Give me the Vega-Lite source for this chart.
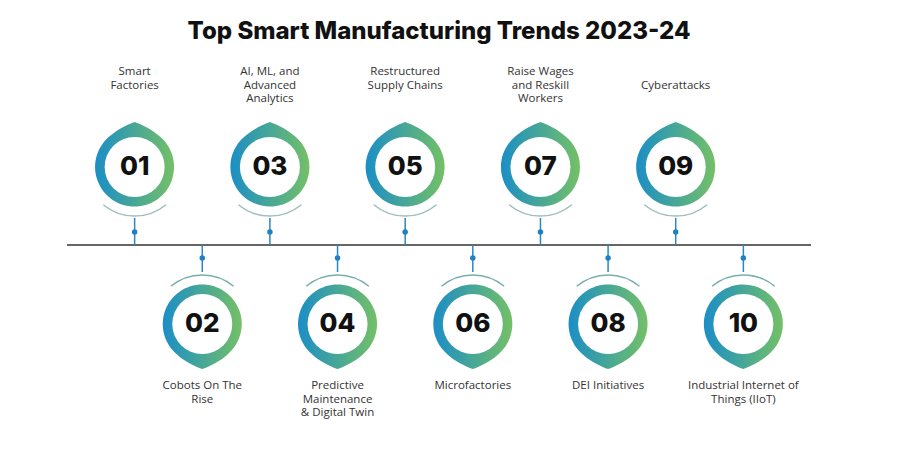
{
  "$schema": "https://vega.github.io/schema/vega-lite/v6.json",
  "width": 900,
  "height": 450,
  "autosize": {"type": "none"},
  "padding": 0,
  "background": "white",
  "config": {"view": {"stroke": null}},
  "data": {
    "values": [
      {"id": "01", "idx": 1, "side": "top", "label": ["Smart", "Factories"]},
      {"id": "02", "idx": 2, "side": "bottom", "label": ["Cobots On The", "Rise"]},
      {"id": "03", "idx": 3, "side": "top", "label": ["AI, ML, and", "Advanced", "Analytics"]},
      {"id": "04", "idx": 4, "side": "bottom", "label": ["Predictive", "Maintenance", "& Digital Twin"]},
      {"id": "05", "idx": 5, "side": "top", "label": ["Restructured", "Supply Chains"]},
      {"id": "06", "idx": 6, "side": "bottom", "label": ["Microfactories"]},
      {"id": "07", "idx": 7, "side": "top", "label": ["Raise Wages", "and Reskill", "Workers"]},
      {"id": "08", "idx": 8, "side": "bottom", "label": ["DEI Initiatives"]},
      {"id": "09", "idx": 9, "side": "top", "label": ["", "Cyberattacks"]},
      {"id": "10", "idx": 10, "side": "bottom", "label": ["Industrial Internet of", "Things (IIoT)"]}
    ]
  },
  "encoding": {
    "x": {"field": "idx", "type": "quantitative", "scale": {"domain": [0, 11], "range": [67, 811], "zero": false, "nice": false}, "axis": null},
    "y": {"field": "side", "type": "nominal", "scale": {"type": "point", "domain": ["top", "bottom"], "range": [167, 324], "padding": 0}, "axis": null}
  },
  "layer": [
    {
      "transform": [{"filter": "datum.idx === 1"}],
      "mark": {"type": "text", "font": "Inter", "fontWeight": 800, "fontSize": 24, "color": "#111111", "align": "center", "baseline": "alphabetic", "yOffset": -128},
      "encoding": {"x": {"datum": 5.5, "type": "quantitative"}, "y": {"datum": "top", "type": "nominal"}, "text": {"value": "Top Smart Manufacturing Trends 2023-24"}}
    },
    {
      "transform": [{"filter": "datum.idx === 1"}],
      "mark": {"type": "rule", "color": "#333333", "strokeWidth": 1.5, "yOffset": 78},
      "encoding": {"x": {"datum": 0, "type": "quantitative"}, "x2": {"datum": 11}, "y": {"datum": "top", "type": "nominal"}}
    },
    {
      "transform": [{"filter": "datum.side === 'top'"}],
      "mark": {"type": "rule", "color": "#2a86c4", "strokeWidth": 1.5, "yOffset": 51, "y2Offset": 78},
      "encoding": {"y": {"datum": "top"}, "y2": {"datum": "top"}}
    },
    {
      "transform": [{"filter": "datum.side === 'bottom'"}],
      "mark": {"type": "rule", "color": "#2a86c4", "strokeWidth": 1.5, "yOffset": -79, "y2Offset": -52},
      "encoding": {"y": {"datum": "bottom"}, "y2": {"datum": "bottom"}}
    },
    {
      "transform": [{"filter": "datum.side === 'top'"}],
      "mark": {"type": "point", "shape": "circle", "filled": true, "opacity": 1, "color": "#1f80c2", "size": 30, "yOffset": 65},
      "encoding": {"y": {"datum": "top"}}
    },
    {
      "transform": [{"filter": "datum.side === 'bottom'"}],
      "mark": {"type": "point", "shape": "circle", "filled": true, "opacity": 1, "color": "#1f80c2", "size": 30, "yOffset": -66},
      "encoding": {"y": {"datum": "bottom"}}
    },
    {
      "transform": [{"filter": "datum.side === 'top'"}],
      "mark": {"type": "point", "shape": "M-0.64,0.77 A1,1 0 0 0 0.64,0.77", "filled": false, "opacity": 1, "strokeWidth": 1.5, "color": "#9cbfbd", "size": 9604}
    },
    {
      "transform": [{"filter": "datum.side === 'bottom'"}],
      "mark": {"type": "point", "shape": "M-0.64,-0.77 A1,1 0 0 1 0.64,-0.77", "filled": false, "opacity": 1, "strokeWidth": 1.5, "color": "#78aeac", "size": 9604}
    },
    {
      "transform": [{"filter": "datum.side === 'top'"}],
      "mark": {
        "type": "point",
        "shape": "M0,-1.14 C0.2,-1.07 0.48,-0.92 0.64,-0.77 A1,1 0 1 1 -0.64,-0.77 C-0.48,-0.92 -0.2,-1.07 0,-1.14 Z",
        "filled": true, "opacity": 1, "strokeWidth": 0, "size": 6241,
        "fill": {"gradient": "linear", "x1": 0, "y1": 0, "x2": 1, "y2": 0, "stops": [{"offset": 0, "color": "#1b8ec6"}, {"offset": 1, "color": "#74c066"}]}
      }
    },
    {
      "transform": [{"filter": "datum.side === 'bottom'"}],
      "mark": {
        "type": "point",
        "shape": "M0,1.14 C0.2,1.07 0.48,0.92 0.64,0.77 A1,1 0 1 0 -0.64,0.77 C-0.48,0.92 -0.2,1.07 0,1.14 Z",
        "filled": true, "opacity": 1, "strokeWidth": 0, "size": 6241,
        "fill": {"gradient": "linear", "x1": 0, "y1": 0, "x2": 1, "y2": 0, "stops": [{"offset": 0, "color": "#1b8ec6"}, {"offset": 1, "color": "#74c066"}]}
      }
    },
    {
      "mark": {"type": "point", "shape": "circle", "filled": true, "opacity": 1, "color": "#ffffff", "size": 3600}
    },
    {
      "mark": {"type": "text", "font": "Inter", "fontWeight": 800, "fontSize": 26, "color": "#111111", "align": "center", "baseline": "middle"},
      "encoding": {"text": {"field": "id"}}
    },
    {
      "transform": [{"filter": "datum.side === 'top'"}],
      "mark": {"type": "text", "font": "Open Sans", "fontWeight": 500, "fontSize": 11.5, "color": "#333333", "align": "center", "baseline": "top", "lineHeight": 13.7, "yOffset": -101},
      "encoding": {"y": {"datum": "top"}, "text": {"field": "label"}}
    },
    {
      "transform": [{"filter": "datum.side === 'bottom'"}],
      "mark": {"type": "text", "font": "Open Sans", "fontWeight": 500, "fontSize": 11.5, "color": "#333333", "align": "center", "baseline": "top", "lineHeight": 13.7, "yOffset": 56},
      "encoding": {"y": {"datum": "bottom"}, "text": {"field": "label"}}
    }
  ]
}
